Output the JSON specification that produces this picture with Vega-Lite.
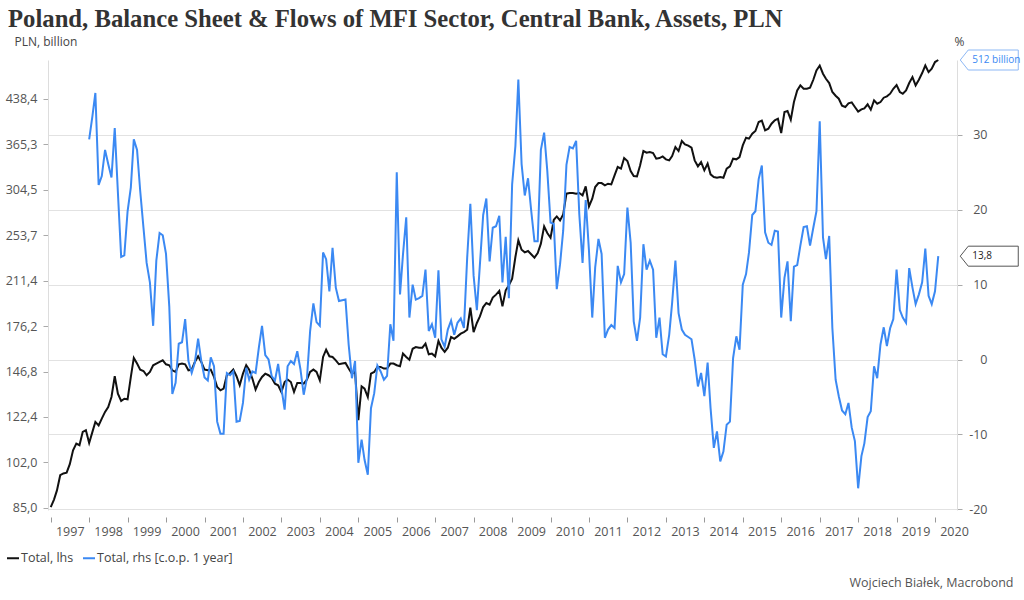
{
"$schema": "https://vega.github.io/schema/vega-lite/v6.json",
"width": 909,
"height": 450,
"autosize": {"type": "none"},
"padding": {"left": 48, "top": 60, "right": 67, "bottom": 90},
"background": "white",
"title": {"text": "Poland, Balance Sheet & Flows of MFI Sector, Central Bank, Assets, PLN", "anchor": "start", "frame": "group", "dx": -40, "offset": 3, "font": "Liberation Serif", "fontSize": 24.7, "fontWeight": "bold", "color": "#333333"},
"data": {"values": [
{"date":"1997-01-01","lhs":85.3},{"date":"1997-02-01","lhs":87.9},{"date":"1997-03-01","lhs":91.2},{"date":"1997-04-01","lhs":96.9},{"date":"1997-05-01","lhs":97.6},{"date":"1997-06-01","lhs":97.9},{"date":"1997-07-01","lhs":101.3},{"date":"1997-08-01","lhs":107.1},{"date":"1997-09-01","lhs":110.0},{"date":"1997-10-01","lhs":109.3},{"date":"1997-11-01","lhs":115.3},{"date":"1997-12-01","lhs":116.1},
{"date":"1998-01-01","lhs":110.3,"rhs":29.4},{"date":"1998-02-01","lhs":115.3,"rhs":32.5},{"date":"1998-03-01","lhs":120.0,"rhs":35.6},{"date":"1998-04-01","lhs":118.3,"rhs":23.3},{"date":"1998-05-01","lhs":121.6,"rhs":24.5},{"date":"1998-06-01","lhs":124.9,"rhs":28.0},{"date":"1998-07-01","lhs":127.4,"rhs":26.1},{"date":"1998-08-01","lhs":132.6,"rhs":24.3},{"date":"1998-09-01","lhs":144.1,"rhs":30.9},{"date":"1998-10-01","lhs":134.4,"rhs":22.3},{"date":"1998-11-01","lhs":130.5,"rhs":13.7},{"date":"1998-12-01","lhs":131.7,"rhs":13.9},
{"date":"1999-01-01","lhs":131.4,"rhs":19.8},{"date":"1999-02-01","lhs":143.7,"rhs":23.0},{"date":"1999-03-01","lhs":155.1,"rhs":29.4},{"date":"1999-04-01","lhs":151.6,"rhs":28.0},{"date":"1999-05-01","lhs":148.0,"rhs":22.5},{"date":"1999-06-01","lhs":147.2,"rhs":17.6},{"date":"1999-07-01","lhs":144.7,"rhs":12.9},{"date":"1999-08-01","lhs":146.6,"rhs":10.3},{"date":"1999-09-01","lhs":150.6,"rhs":4.5},{"date":"1999-10-01","lhs":151.6,"rhs":13.2},{"date":"1999-11-01","lhs":152.6,"rhs":16.9},{"date":"1999-12-01","lhs":153.6,"rhs":16.6},
{"date":"2000-01-01","lhs":151.2,"rhs":14.1},{"date":"2000-02-01","lhs":150.6,"rhs":7.1},{"date":"2000-03-01","lhs":147.6,"rhs":-4.6},{"date":"2000-04-01","lhs":146.6,"rhs":-3.1},{"date":"2000-05-01","lhs":151.2,"rhs":2.1},{"date":"2000-06-01","lhs":151.6,"rhs":2.3},{"date":"2000-07-01","lhs":151.2,"rhs":5.4},{"date":"2000-08-01","lhs":147.6,"rhs":-0.2},{"date":"2000-09-01","lhs":148.0,"rhs":-1.8},{"date":"2000-10-01","lhs":152.6,"rhs":-0.4},{"date":"2000-11-01","lhs":156.1,"rhs":2.8},{"date":"2000-12-01","lhs":152.6,"rhs":-0.2},
{"date":"2001-01-01","lhs":148.0,"rhs":-2.4},{"date":"2001-02-01","lhs":147.6,"rhs":-2.8},{"date":"2001-03-01","lhs":148.0,"rhs":0.3},{"date":"2001-04-01","lhs":143.7,"rhs":-0.9},{"date":"2001-05-01","lhs":138.0,"rhs":-8.3},{"date":"2001-06-01","lhs":136.2,"rhs":-9.9},{"date":"2001-07-01","lhs":137.1,"rhs":-9.9},{"date":"2001-08-01","lhs":144.7,"rhs":-1.8},{"date":"2001-09-01","lhs":146.0,"rhs":-2.1},{"date":"2001-10-01","lhs":148.0,"rhs":-1.6},{"date":"2001-11-01","lhs":144.1,"rhs":-8.3},{"date":"2001-12-01","lhs":139.0,"rhs":-8.2},
{"date":"2002-01-01","lhs":145.6,"rhs":-5.8},{"date":"2002-02-01","lhs":150.6,"rhs":-1.1},{"date":"2002-03-01","lhs":148.0,"rhs":-2.7},{"date":"2002-04-01","lhs":142.7,"rhs":-1.6},{"date":"2002-05-01","lhs":136.6,"rhs":-1.8},{"date":"2002-06-01","lhs":140.8,"rhs":1.6},{"date":"2002-07-01","lhs":143.7,"rhs":4.5},{"date":"2002-08-01","lhs":145.6,"rhs":0.6},{"date":"2002-09-01","lhs":144.7,"rhs":0.0},{"date":"2002-10-01","lhs":143.3,"rhs":-2.2},{"date":"2002-11-01","lhs":139.9,"rhs":-2.8},{"date":"2002-12-01","lhs":139.0,"rhs":-0.6},
{"date":"2003-01-01","lhs":135.3,"rhs":-3.8},{"date":"2003-02-01","lhs":140.8,"rhs":-6.7},{"date":"2003-03-01","lhs":142.2,"rhs":-0.9},{"date":"2003-04-01","lhs":140.8,"rhs":-0.2},{"date":"2003-05-01","lhs":135.3,"rhs":-0.6},{"date":"2003-06-01","lhs":140.3,"rhs":1.1},{"date":"2003-07-01","lhs":140.3,"rhs":-1.3},{"date":"2003-08-01","lhs":139.9,"rhs":-4.7},{"date":"2003-09-01","lhs":142.2,"rhs":-2.5},{"date":"2003-10-01","lhs":146.6,"rhs":3.8},{"date":"2003-11-01","lhs":148.0,"rhs":7.5},{"date":"2003-12-01","lhs":146.6,"rhs":5.0},
{"date":"2004-01-01","lhs":141.8,"rhs":4.5},{"date":"2004-02-01","lhs":155.7,"rhs":14.3},{"date":"2004-03-01","lhs":160.3,"rhs":13.4},{"date":"2004-04-01","lhs":156.1,"rhs":9.1},{"date":"2004-05-01","lhs":155.7,"rhs":14.9},{"date":"2004-06-01","lhs":153.6,"rhs":9.6},{"date":"2004-07-01","lhs":151.2,"rhs":7.8},{"date":"2004-08-01","lhs":151.6,"rhs":7.9},{"date":"2004-09-01","lhs":152.0,"rhs":8.0},{"date":"2004-10-01","lhs":148.6,"rhs":2.0},{"date":"2004-11-01","lhs":145.6,"rhs":-2.5},{"date":"2004-12-01","lhs":146.6,"rhs":-0.2},
{"date":"2005-01-01","lhs":120.8,"rhs":-13.8},{"date":"2005-02-01","lhs":138.4,"rhs":-10.7},{"date":"2005-03-01","lhs":137.1,"rhs":-13.4},{"date":"2005-04-01","lhs":132.6,"rhs":-15.4},{"date":"2005-05-01","lhs":145.6,"rhs":-6.5},{"date":"2005-06-01","lhs":146.6,"rhs":-4.5},{"date":"2005-07-01","lhs":149.6,"rhs":-0.8},{"date":"2005-08-01","lhs":149.6,"rhs":-1.6},{"date":"2005-09-01","lhs":148.6,"rhs":-2.7},{"date":"2005-10-01","lhs":148.6,"rhs":-2.2},{"date":"2005-11-01","lhs":151.6,"rhs":4.7},{"date":"2005-12-01","lhs":151.6,"rhs":2.5},
{"date":"2006-01-01","lhs":150.6,"rhs":25.0},{"date":"2006-02-01","lhs":150.0,"rhs":8.7},{"date":"2006-03-01","lhs":157.8,"rhs":14.0},{"date":"2006-04-01","lhs":155.7,"rhs":19.0},{"date":"2006-05-01","lhs":154.0,"rhs":5.6},{"date":"2006-06-01","lhs":160.9,"rhs":10.0},{"date":"2006-07-01","lhs":162.0,"rhs":8.0},{"date":"2006-08-01","lhs":161.6,"rhs":8.2},{"date":"2006-09-01","lhs":161.6,"rhs":8.5},{"date":"2006-10-01","lhs":164.2,"rhs":12.0},{"date":"2006-11-01","lhs":157.4,"rhs":3.8},{"date":"2006-12-01","lhs":157.8,"rhs":4.7},
{"date":"2007-01-01","lhs":156.1,"rhs":2.9},{"date":"2007-02-01","lhs":166.0,"rhs":11.9},{"date":"2007-03-01","lhs":161.6,"rhs":2.7},{"date":"2007-04-01","lhs":158.9,"rhs":1.7},{"date":"2007-05-01","lhs":161.6,"rhs":4.0},{"date":"2007-06-01","lhs":168.7,"rhs":5.2},{"date":"2007-07-01","lhs":167.4,"rhs":3.3},{"date":"2007-08-01","lhs":169.1,"rhs":4.9},{"date":"2007-09-01","lhs":170.9,"rhs":5.5},{"date":"2007-10-01","lhs":172.0,"rhs":4.2},{"date":"2007-11-01","lhs":173.6,"rhs":13.6},{"date":"2007-12-01","lhs":189.7,"rhs":20.8},
{"date":"2008-01-01","lhs":172.0,"rhs":11.2},{"date":"2008-02-01","lhs":178.4,"rhs":6.6},{"date":"2008-03-01","lhs":183.2,"rhs":12.7},{"date":"2008-04-01","lhs":190.2,"rhs":19.3},{"date":"2008-05-01","lhs":193.3,"rhs":21.5},{"date":"2008-06-01","lhs":192.0,"rhs":13.1},{"date":"2008-07-01","lhs":197.5,"rhs":17.6},{"date":"2008-08-01","lhs":199.9,"rhs":17.8},{"date":"2008-09-01","lhs":202.9,"rhs":19.2},{"date":"2008-10-01","lhs":190.7,"rhs":10.3},{"date":"2008-11-01","lhs":203.4,"rhs":16.4},{"date":"2008-12-01","lhs":207.5,"rhs":8.2},
{"date":"2009-01-01","lhs":213.1,"rhs":23.4},{"date":"2009-02-01","lhs":232.4,"rhs":28.5},{"date":"2009-03-01","lhs":248.5,"rhs":37.4},{"date":"2009-04-01","lhs":239.3,"rhs":26.1},{"date":"2009-05-01","lhs":236.8,"rhs":21.9},{"date":"2009-06-01","lhs":238.1,"rhs":24.2},{"date":"2009-07-01","lhs":235.0,"rhs":19.9},{"date":"2009-08-01","lhs":231.8,"rhs":15.8},{"date":"2009-09-01","lhs":236.2,"rhs":15.8},{"date":"2009-10-01","lhs":245.2,"rhs":28.0},{"date":"2009-11-01","lhs":262.8,"rhs":30.3},{"date":"2009-12-01","lhs":255.9,"rhs":25.2},
{"date":"2010-01-01","lhs":251.1,"rhs":18.3},{"date":"2010-02-01","lhs":269.9,"rhs":18.1},{"date":"2010-03-01","lhs":273.5,"rhs":9.4},{"date":"2010-04-01","lhs":269.2,"rhs":12.7},{"date":"2010-05-01","lhs":275.7,"rhs":17.2},{"date":"2010-06-01","lhs":299.6,"rhs":26.0},{"date":"2010-07-01","lhs":300.4,"rhs":28.4},{"date":"2010-08-01","lhs":300.4,"rhs":28.2},{"date":"2010-09-01","lhs":299.6,"rhs":29.2},{"date":"2010-10-01","lhs":300.4,"rhs":19.4},{"date":"2010-11-01","lhs":297.6,"rhs":12.9},{"date":"2010-12-01","lhs":308.5,"rhs":21.3},
{"date":"2011-01-01","lhs":284.7,"rhs":14.5},{"date":"2011-02-01","lhs":293.7,"rhs":5.6},{"date":"2011-03-01","lhs":307.7,"rhs":12.3},{"date":"2011-04-01","lhs":312.6,"rhs":16.1},{"date":"2011-05-01","lhs":312.6,"rhs":14.1},{"date":"2011-06-01","lhs":309.7,"rhs":2.9},{"date":"2011-07-01","lhs":311.8,"rhs":4.0},{"date":"2011-08-01","lhs":310.9,"rhs":4.6},{"date":"2011-09-01","lhs":322.4,"rhs":4.2},{"date":"2011-10-01","lhs":333.4,"rhs":12.5},{"date":"2011-11-01","lhs":331.2,"rhs":10.3},{"date":"2011-12-01","lhs":345.6,"rhs":11.4},
{"date":"2012-01-01","lhs":341.5,"rhs":20.3},{"date":"2012-02-01","lhs":328.1,"rhs":15.6},{"date":"2012-03-01","lhs":321.6,"rhs":5.1},{"date":"2012-04-01","lhs":321.2,"rhs":2.5},{"date":"2012-05-01","lhs":335.7,"rhs":5.6},{"date":"2012-06-01","lhs":355.5,"rhs":15.4},{"date":"2012-07-01","lhs":353.1,"rhs":12.0},{"date":"2012-08-01","lhs":354.1,"rhs":13.2},{"date":"2012-09-01","lhs":352.7,"rhs":12.0},{"date":"2012-10-01","lhs":344.7,"rhs":2.9},{"date":"2012-11-01","lhs":345.6,"rhs":5.6},{"date":"2012-12-01","lhs":347.9,"rhs":0.7},
{"date":"2013-01-01","lhs":343.8,"rhs":0.4},{"date":"2013-02-01","lhs":342.4,"rhs":3.3},{"date":"2013-03-01","lhs":348.4,"rhs":7.6},{"date":"2013-04-01","lhs":361.2,"rhs":13.2},{"date":"2013-05-01","lhs":355.5,"rhs":6.2},{"date":"2013-06-01","lhs":370.0,"rhs":4.0},{"date":"2013-07-01","lhs":365.1,"rhs":3.3},{"date":"2013-08-01","lhs":363.2,"rhs":3.0},{"date":"2013-09-01","lhs":360.3,"rhs":2.7},{"date":"2013-10-01","lhs":342.4,"rhs":0.0},{"date":"2013-11-01","lhs":334.3,"rhs":-3.6},{"date":"2013-12-01","lhs":340.0,"rhs":-1.8},
{"date":"2014-01-01","lhs":329.0,"rhs":-4.9},{"date":"2014-02-01","lhs":337.9,"rhs":-0.4},{"date":"2014-03-01","lhs":323.7,"rhs":-6.5},{"date":"2014-04-01","lhs":320.3,"rhs":-11.8},{"date":"2014-05-01","lhs":319.4,"rhs":-9.6},{"date":"2014-06-01","lhs":320.3,"rhs":-13.6},{"date":"2014-07-01","lhs":319.4,"rhs":-12.3},{"date":"2014-08-01","lhs":331.2,"rhs":-8.7},{"date":"2014-09-01","lhs":334.3,"rhs":-8.3},{"date":"2014-10-01","lhs":344.7,"rhs":0.2},{"date":"2014-11-01","lhs":343.8,"rhs":3.1},{"date":"2014-12-01","lhs":347.0,"rhs":1.3},
{"date":"2015-01-01","lhs":363.6,"rhs":10.0},{"date":"2015-02-01","lhs":375.0,"rhs":11.4},{"date":"2015-03-01","lhs":373.5,"rhs":14.3},{"date":"2015-04-01","lhs":381.0,"rhs":19.3},{"date":"2015-05-01","lhs":385.2,"rhs":19.8},{"date":"2015-06-01","lhs":399.3,"rhs":24.1},{"date":"2015-07-01","lhs":401.5,"rhs":25.9},{"date":"2015-08-01","lhs":386.2,"rhs":17.0},{"date":"2015-09-01","lhs":388.8,"rhs":15.6},{"date":"2015-10-01","lhs":396.6,"rhs":15.3},{"date":"2015-11-01","lhs":402.0,"rhs":17.2},{"date":"2015-12-01","lhs":404.6,"rhs":17.1},
{"date":"2016-01-01","lhs":382.0,"rhs":5.6},{"date":"2016-02-01","lhs":415.6,"rhs":10.9},{"date":"2016-03-01","lhs":417.3,"rhs":13.1},{"date":"2016-04-01","lhs":403.0,"rhs":5.1},{"date":"2016-05-01","lhs":432.6,"rhs":12.4},{"date":"2016-06-01","lhs":453.3,"rhs":12.6},{"date":"2016-07-01","lhs":462.5,"rhs":15.2},{"date":"2016-08-01","lhs":456.3,"rhs":17.7},{"date":"2016-09-01","lhs":456.3,"rhs":17.8},{"date":"2016-10-01","lhs":458.2,"rhs":15.2},{"date":"2016-11-01","lhs":473.0,"rhs":17.6},{"date":"2016-12-01","lhs":491.1,"rhs":19.8},
{"date":"2017-01-01","lhs":500.8,"rhs":31.8},{"date":"2017-02-01","lhs":484.6,"rhs":16.3},{"date":"2017-03-01","lhs":474.9,"rhs":13.4},{"date":"2017-04-01","lhs":466.8,"rhs":16.5},{"date":"2017-05-01","lhs":450.3,"rhs":4.2},{"date":"2017-06-01","lhs":443.7,"rhs":-2.7},{"date":"2017-07-01","lhs":438.4,"rhs":-4.9},{"date":"2017-08-01","lhs":426.3,"rhs":-6.8},{"date":"2017-09-01","lhs":424.0,"rhs":-7.3},{"date":"2017-10-01","lhs":430.3,"rhs":-5.8},{"date":"2017-11-01","lhs":432.0,"rhs":-9.1},{"date":"2017-12-01","lhs":424.0,"rhs":-10.9},
{"date":"2018-01-01","lhs":416.2,"rhs":-17.2},{"date":"2018-02-01","lhs":420.1,"rhs":-12.9},{"date":"2018-03-01","lhs":421.8,"rhs":-11.2},{"date":"2018-04-01","lhs":428.6,"rhs":-7.7},{"date":"2018-05-01","lhs":419.5,"rhs":-6.9},{"date":"2018-06-01","lhs":435.5,"rhs":-0.9},{"date":"2018-07-01","lhs":429.7,"rhs":-2.5},{"date":"2018-08-01","lhs":432.6,"rhs":2.0},{"date":"2018-09-01","lhs":440.2,"rhs":4.3},{"date":"2018-10-01","lhs":442.6,"rhs":1.8},{"date":"2018-11-01","lhs":447.3,"rhs":4.2},{"date":"2018-12-01","lhs":456.3,"rhs":5.4},
{"date":"2019-01-01","lhs":463.1,"rhs":12.0},{"date":"2019-02-01","lhs":450.3,"rhs":6.6},{"date":"2019-03-01","lhs":447.3,"rhs":5.6},{"date":"2019-04-01","lhs":453.3,"rhs":4.9},{"date":"2019-05-01","lhs":466.8,"rhs":12.2},{"date":"2019-06-01","lhs":478.2,"rhs":9.6},{"date":"2019-07-01","lhs":462.5,"rhs":7.4},{"date":"2019-08-01","lhs":473.0,"rhs":8.7},{"date":"2019-09-01","lhs":485.9,"rhs":10.3},{"date":"2019-10-01","lhs":500.8,"rhs":14.8},{"date":"2019-11-01","lhs":487.8,"rhs":8.5},{"date":"2019-12-01","lhs":494.4,"rhs":7.4},
{"date":"2020-01-01","lhs":507.8,"rhs":9.1},{"date":"2020-02-01","lhs":512.0,"rhs":13.8}
]},
"encoding": {
  "x": {"field": "date", "type": "temporal",
    "scale": {"domain": [{"year": 1996, "month": 12, "date": 6}, {"year": 2020, "month": 7, "date": 28}]},
    "axis": {"values": [{"year":1997,"month":1,"date":1},{"year":1998,"month":1,"date":1},{"year":1999,"month":1,"date":1},{"year":2000,"month":1,"date":1},{"year":2001,"month":1,"date":1},{"year":2002,"month":1,"date":1},{"year":2003,"month":1,"date":1},{"year":2004,"month":1,"date":1},{"year":2005,"month":1,"date":1},{"year":2006,"month":1,"date":1},{"year":2007,"month":1,"date":1},{"year":2008,"month":1,"date":1},{"year":2009,"month":1,"date":1},{"year":2010,"month":1,"date":1},{"year":2011,"month":1,"date":1},{"year":2012,"month":1,"date":1},{"year":2013,"month":1,"date":1},{"year":2014,"month":1,"date":1},{"year":2015,"month":1,"date":1},{"year":2016,"month":1,"date":1},{"year":2017,"month":1,"date":1},{"year":2018,"month":1,"date":1},{"year":2019,"month":1,"date":1},{"year":2020,"month":1,"date":1}],
      "format": "%Y", "labelOffset": 19, "labelAlign": "center", "tickSize": 5, "tickColor": "#999999", "domain": false, "grid": false, "offset": 7,
      "labelFontSize": 12.5, "labelColor": "#555555", "labelPadding": 3, "labelOverlap": false, "labelFlush": false, "labelBound": false,
      "title": "Wojciech Białek, Macrobond", "titleX": 965, "titleY": 65, "titleAlign": "right", "titleBaseline": "middle", "titleFontWeight": "normal", "titleFontSize": 12.5, "titleColor": "#555555"}
  }
},
"layer": [
  {
    "encoding": {"y": {"field": "lhs", "type": "quantitative",
      "scale": {"type": "log", "domain": [84.3, 512], "nice": false, "zero": false},
      "axis": {"orient": "left", "values": [85, 102, 122.4, 146.8, 176.2, 211.4, 253.7, 304.5, 365.3, 438.4],
        "labelExpr": "replace(format(datum.value, '.1f'), '.', ',')", "grid": false, "domain": true, "domainColor": "#dddddd",
        "tickColor": "#aaaaaa", "tickSize": 5, "labelPadding": 6, "labelFontSize": 12.5, "labelColor": "#555555",
        "title": "PLN, billion", "titleAngle": 0, "titleX": -34, "titleY": -19, "titleAlign": "left", "titleBaseline": "middle",
        "titleFontWeight": "normal", "titleFontSize": 12, "titleColor": "#444444"}}},
    "layer": [
      {"mark": {"type": "line", "strokeWidth": 2},
       "encoding": {"color": {"datum": "Total, lhs", "type": "nominal",
         "scale": {"domain": ["Total, lhs", "Total, rhs [c.o.p. 1 year]"], "range": ["#111111", "#3b89f3"]},
         "legend": {"orient": "none", "legendX": -42, "legendY": 491, "direction": "horizontal", "title": null,
           "symbolType": "stroke", "symbolStrokeWidth": 2, "symbolSize": 144, "labelFontSize": 12.5, "labelColor": "#444444",
           "columnPadding": 5, "labelOffset": 1}}}},
      {"transform": [{"filter": "datum.date > datetime(2020, 0, 15)"}],
       "mark": {"type": "point", "shape": "M22,0L30,-10L80,-10L80,10L30,10Z", "size": 4, "filled": true, "fill": "white", "stroke": "#8db8f5", "strokeWidth": 1, "opacity": 1}},
      {"transform": [{"filter": "datum.date > datetime(2020, 0, 15)"}],
       "mark": {"type": "text", "text": "512 billion", "dx": 34, "align": "left", "baseline": "middle", "fontSize": 10, "color": "#3b89f3"}}
    ]
  },
  {
    "encoding": {"y": {"field": "rhs", "type": "quantitative",
      "scale": {"domain": [-20.1, 40], "nice": false, "zero": false},
      "axis": {"orient": "right", "values": [-20, -10, 0, 10, 20, 30], "labelExpr": "'' + datum.value",
        "grid": true, "gridColor": "#e2e2e2", "domain": true, "domainColor": "#dddddd", "tickColor": "#aaaaaa", "tickSize": 5,
        "labelAlign": "right", "labelPadding": 25, "labelFontSize": 12.5, "labelColor": "#555555",
        "title": "%", "titleAngle": 0, "titleX": 2, "titleY": -19, "titleAlign": "center", "titleBaseline": "middle",
        "titleFontWeight": "normal", "titleFontSize": 12, "titleColor": "#444444"}}},
    "layer": [
      {"mark": {"type": "line", "strokeWidth": 2},
       "encoding": {"color": {"datum": "Total, rhs [c.o.p. 1 year]", "type": "nominal"}}},
      {"transform": [{"filter": "datum.date > datetime(2020, 0, 15)"}],
       "mark": {"type": "point", "shape": "M22,0L30,-10L80,-10L80,10L30,10Z", "size": 4, "filled": true, "fill": "white", "stroke": "#555555", "strokeWidth": 1, "opacity": 1}},
      {"transform": [{"filter": "datum.date > datetime(2020, 0, 15)"}],
       "mark": {"type": "text", "text": "13,8", "dx": 34, "align": "left", "baseline": "middle", "fontSize": 10, "color": "#222222"}}
    ]
  }
],
"resolve": {"scale": {"y": "independent"}},
"config": {
  "view": {"stroke": null},
  "font": "Open Sans",
  "axis": {"labelFont": "Open Sans", "titleFont": "Open Sans"},
  "legend": {"labelFont": "Open Sans"}
}
}
